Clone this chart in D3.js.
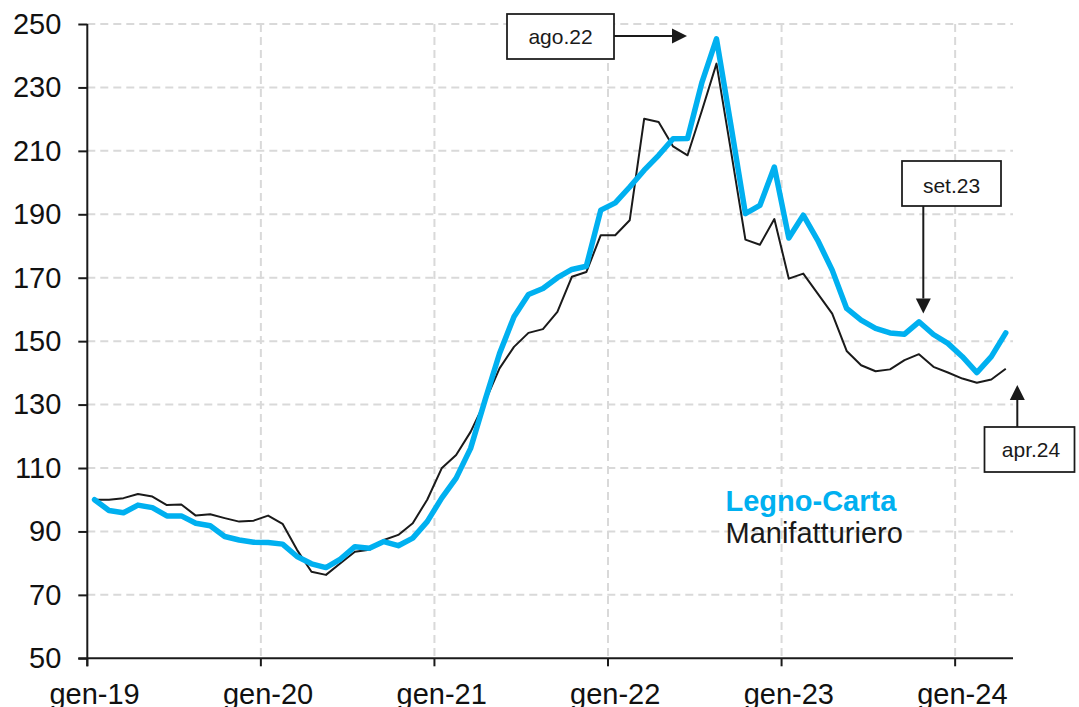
<!DOCTYPE html>
<html><head><meta charset="utf-8">
<script src="https://cdn.jsdelivr.net/npm/d3@7"></script>
<style>body{margin:0;background:#fff} text{font-family:"Liberation Sans",Arial,sans-serif}</style>
</head><body><svg id="c" width="1079" height="707"></svg>
<script>
const categories = [
 "gen-19","feb-19","mar-19","apr-19","mag-19","giu-19","lug-19","ago-19","set-19","ott-19","nov-19","dic-19",
 "gen-20","feb-20","mar-20","apr-20","mag-20","giu-20","lug-20","ago-20","set-20","ott-20","nov-20","dic-20",
 "gen-21","feb-21","mar-21","apr-21","mag-21","giu-21","lug-21","ago-21","set-21","ott-21","nov-21","dic-21",
 "gen-22","feb-22","mar-22","apr-22","mag-22","giu-22","lug-22","ago-22","set-22","ott-22","nov-22","dic-22",
 "gen-23","feb-23","mar-23","apr-23","mag-23","giu-23","lug-23","ago-23","set-23","ott-23","nov-23","dic-23",
 "gen-24","feb-24","mar-24","apr-24"];
const legnoCarta = [
 100,96.6,95.9,98.3,97.5,94.9,94.9,92.6,91.8,88.4,87.3,86.6,
 86.5,86,82.1,79.8,78.6,81.3,85.2,84.7,86.8,85.5,87.9,93.1,
 100.5,106.8,116.2,131.4,146.1,157.7,164.7,166.6,170,172.6,173.6,191.3,
 193.6,198.6,203.9,208.6,213.8,213.9,231.7,245.3,218,190.2,192.8,204.9,
 182.5,189.7,181.8,172.4,160.3,156.6,154,152.6,152.2,156.1,152.1,149.3,
 145.1,140.1,145.1,152.6];
const manifatturiero = [
 100,100,100.5,101.8,101,98.3,98.5,95,95.4,94.2,93.1,93.4,
 95,92.4,84.2,77.3,76.3,80,83.6,84.2,87.3,88.9,92.6,100,
 109.9,114.1,121.4,130.9,141.4,148.2,152.6,153.8,159.2,170.3,171.8,183.4,
 183.4,188.1,220.1,219.1,211.4,208.6,222.8,237.5,210,182,180.4,188.5,
 169.7,171.3,165,158.7,146.9,142.4,140.5,141.1,144,145.9,141.9,140.1,
 138.2,136.9,137.9,141.3];
const yTicks = [50,70,90,110,130,150,170,190,210,230,250];
const xTickLabels = ["gen-19","gen-20","gen-21","gen-22","gen-23","gen-24"];
const seriesNames = ["Legno-Carta","Manifatturiero"];
const annotationLabels = ["ago.22","set.23","apr.24"];

const svg = d3.select("#c");
const L = 87.3, R = 1013, T = 24, B = 658.3;
const x = d3.scaleBand().domain(categories).range([L, R]).padding(0);
const xc = c => x(c) + x.bandwidth()/2;
const y = d3.scaleLinear().domain([50,250]).range([B, T]);

// gridlines
const grid = svg.append("g").attr("stroke","#d9d9d9").attr("stroke-width",2).attr("stroke-dasharray","8,5");
grid.selectAll("line.h").data(yTicks.filter(v=>v>50)).join("line")
  .attr("x1",L).attr("x2",R).attr("y1",d=>y(d)).attr("y2",d=>y(d));
grid.selectAll("line.v").data(xTickLabels.slice(1)).join("line")
  .attr("x1",d=>x(d)).attr("x2",d=>x(d)).attr("y1",T).attr("y2",B);

// axes
const yAxis = d3.axisLeft(y).tickValues(yTicks).tickSize(9).tickPadding(17).tickFormat(d3.format("d"));
const gy = svg.append("g").attr("transform",`translate(${L},0)`).call(yAxis);
gy.select(".domain").remove();
gy.append("line").attr("x1",0).attr("x2",0).attr("y1",T).attr("y2",B+8).attr("stroke","#1a1a1a").attr("stroke-width",2);
gy.selectAll(".tick line").attr("stroke","#1a1a1a").attr("stroke-width",2);
gy.selectAll(".tick text").attr("font-size",29).attr("fill","#111").attr("font-family","Liberation Sans, Arial, sans-serif");

const gx = svg.append("g");
gx.append("line").attr("x1",L-9).attr("x2",R).attr("y1",B).attr("y2",B).attr("stroke","#1a1a1a").attr("stroke-width",2);
gx.selectAll("line.t").data(xTickLabels).join("line")
  .attr("x1",d=>x(d)).attr("x2",d=>x(d)).attr("y1",B).attr("y2",B+8).attr("stroke","#1a1a1a").attr("stroke-width",2);
gx.selectAll("text").data(xTickLabels).join("text")
  .attr("x",d=>xc(d)).attr("y",B+45.5).attr("text-anchor","middle").attr("font-size",29).attr("fill","#111").text(d=>d);

// lines
const line = d3.line().x((d,i)=>xc(categories[i])).y(d=>y(d));
svg.append("path").datum(manifatturiero).attr("d",line).attr("fill","none")
  .attr("stroke","#1a1a1a").attr("stroke-width",2).attr("stroke-linejoin","round");
svg.append("path").datum(legnoCarta).attr("d",line).attr("fill","none")
  .attr("stroke","#00B0F0").attr("stroke-width",5.5).attr("stroke-linejoin","round").attr("stroke-linecap","round");

// legend
svg.append("text").attr("x",725.5).attr("y",510.5).attr("font-size",29).attr("font-weight","bold").attr("fill","#00B0F0").text(seriesNames[0]);
svg.append("text").attr("x",725.5).attr("y",542.5).attr("font-size",29).attr("fill","#1a1a1a").text(seriesNames[1]);

// annotations
const ann = svg.append("g");
function box(bx,by,bw,bh,label,tx,ty){
  ann.append("rect").attr("x",bx).attr("y",by).attr("width",bw).attr("height",bh)
    .attr("fill","#fff").attr("stroke","#1a1a1a").attr("stroke-width",1.75);
  ann.append("text").attr("x",tx).attr("y",ty).attr("text-anchor","middle").attr("font-size",21).attr("fill","#1a1a1a").text(label);
}
function arrow(x1,y1,x2,y2){
  const ang = Math.atan2(y2-y1,x2-x1), hl=15, hw=7.5;
  const bx = x2 - hl*Math.cos(ang), by = y2 - hl*Math.sin(ang);
  ann.append("line").attr("x1",x1).attr("y1",y1).attr("x2",bx).attr("y2",by).attr("stroke","#1a1a1a").attr("stroke-width",2);
  const px = -Math.sin(ang)*hw, py = Math.cos(ang)*hw;
  ann.append("polygon").attr("points",`${x2},${y2} ${bx+px},${by+py} ${bx-px},${by-py}`).attr("fill","#1a1a1a");
}
box(507,14,107,45,annotationLabels[0],560.5,44);
arrow(614,36,687,36);
box(902,161,99,45,annotationLabels[1],951.5,192.5);
arrow(923.3,206,923.3,313.5);
box(984.5,427,90,45,annotationLabels[2],1031,457);
arrow(1017.3,427,1017.3,385);
</script></body></html>
